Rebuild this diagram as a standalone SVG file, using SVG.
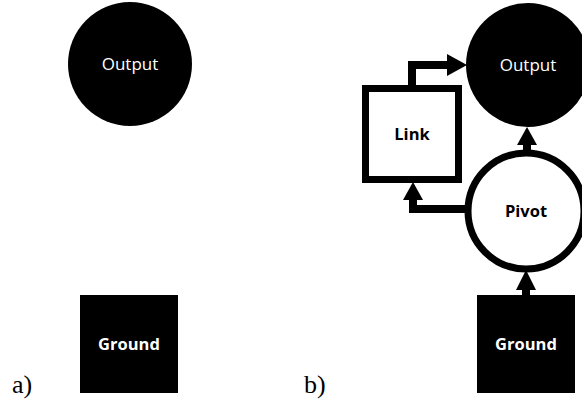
<svg xmlns="http://www.w3.org/2000/svg" width="582" height="404" viewBox="0 0 582 404">
  <defs>
    <style>
      .lbl { font-family: "Open Sans", "Noto Sans", sans-serif; font-size: 17px; text-anchor: middle; }
      .w { fill: #fff; }
      .k { fill: #000; }
      .b { font-weight: bold; font-size: 16.5px; }
      .tag { font-family: "Liberation Serif", "DejaVu Serif", serif; font-size: 26px; fill: #000; }
      .wire { fill: none; stroke: #000; stroke-width: 8; stroke-linejoin: miter; }
      .head { fill: #000; }
    </style>
  </defs>
  <rect width="582" height="404" fill="#fff"/>

  <!-- panel a -->
  <g id="a-output">
    <circle cx="130" cy="64" r="62" fill="#000"/>
    <text class="lbl w" x="130" y="70">Output</text>
  </g>
  <g id="a-ground">
    <rect x="80" y="295" width="98" height="98" fill="#000"/>
    <text class="lbl w b" x="129" y="350">Ground</text>
  </g>
  <text class="tag" x="12" y="393">a)</text>

  <!-- panel b -->
  <text class="tag" x="304" y="393">b)</text>

  <g id="connectors">
    <!-- ground to pivot -->
    <line class="wire" x1="526" y1="296" x2="526" y2="285"/>
    <polygon class="head" points="516,290 536,290 526,270"/>
    <!-- pivot to output -->
    <line class="wire" x1="527" y1="153" x2="527" y2="140"/>
    <polygon class="head" points="517,145 537,145 527,127"/>
    <!-- pivot to link -->
    <polyline class="wire" points="470,209 413,209 413,196"/>
    <polygon class="head" points="403,200 423,200 413,182"/>
    <!-- link to output -->
    <polyline class="wire" points="412,86 412,65 452,65"/>
    <polygon class="head" points="447,54 447,76 467,65"/>
  </g>

  <g id="b-output">
    <circle cx="528" cy="65" r="62" fill="#000"/>
    <text class="lbl w" x="528" y="71">Output</text>
  </g>
  <g id="b-link">
    <rect x="365.5" y="88.5" width="93" height="91" fill="#fff" stroke="#000" stroke-width="7"/>
    <text class="lbl k b" x="412" y="140">Link</text>
  </g>
  <g id="b-pivot">
    <circle cx="526" cy="211" r="58" fill="#fff" stroke="#000" stroke-width="7"/>
    <text class="lbl k b" x="526" y="217">Pivot</text>
  </g>
  <g id="b-ground">
    <rect x="477" y="295" width="98" height="98" fill="#000"/>
    <text class="lbl w b" x="526" y="350">Ground</text>
  </g>
</svg>
